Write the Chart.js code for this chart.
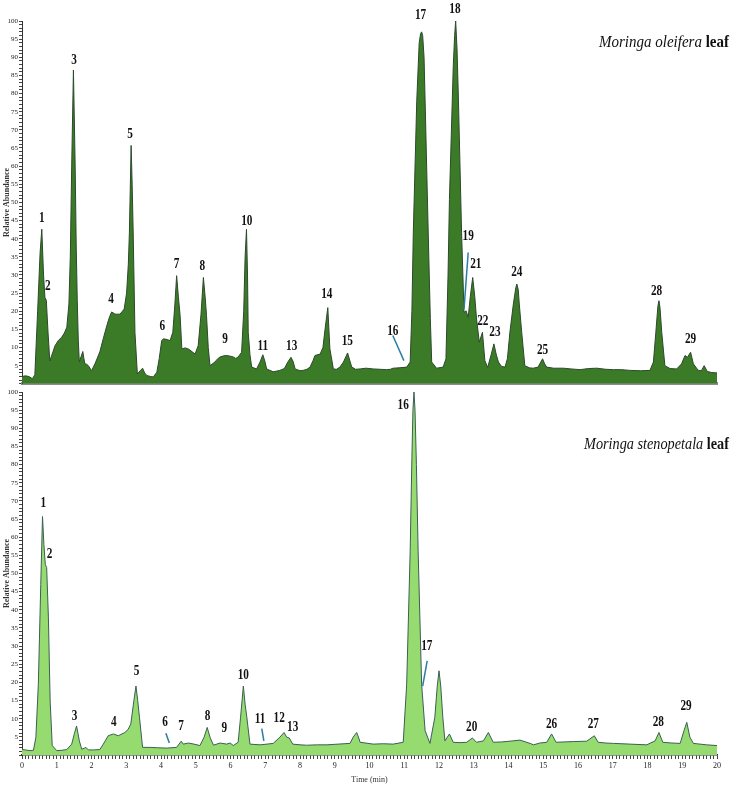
<!DOCTYPE html>
<html lang="en">
<head>
<meta charset="UTF-8">
<title>Moringa leaf chromatograms</title>
<script src="https://cdn.jsdelivr.net/npm/chart.js@4"></script>
<style>
  html, body { margin: 0; padding: 0; background: #fff; }
  #wrap { position: relative; width: 730px; height: 789px; overflow: hidden; }
  canvas { position: absolute; left: 0; }
  #topChart { top: 0; }
  #bottomChart { top: 385px; }
</style>
</head>
<body>
<div id="wrap">
  <canvas id="topChart" width="730" height="389"></canvas>
  <canvas id="bottomChart" width="730" height="404"></canvas>
</div>
<script>
// ---- Moringa oleifera leaf (top trace), time in min / relative abundance
const oleiferaTime = [
  0.00, 0.10, 0.20, 0.30, 0.37, 0.45, 0.52, 0.57, 0.62, 0.66, 0.70, 0.75, 0.80, 0.88, 0.95, 1.05,
  1.14, 1.22, 1.29, 1.35, 1.39, 1.43, 1.48, 1.53, 1.56, 1.59, 1.62, 1.65, 1.70, 1.75, 1.78, 1.81,
  1.86, 1.91, 2.00, 2.10, 2.24, 2.34, 2.44, 2.52, 2.58, 2.68, 2.82, 2.94, 3.01, 3.06, 3.09, 3.14,
  3.17, 3.20, 3.25, 3.32, 3.40, 3.47, 3.53, 3.59, 3.70, 3.78, 3.88, 3.95, 4.02, 4.07, 4.18, 4.26,
  4.34, 4.40, 4.45, 4.50, 4.55, 4.60, 4.69, 4.79, 4.90, 4.98, 5.07, 5.15, 5.22, 5.27, 5.31, 5.36,
  5.41, 5.48, 5.55, 5.62, 5.70, 5.80, 5.89, 6.00, 6.08, 6.15, 6.22, 6.32, 6.38, 6.42, 6.46, 6.49,
  6.51, 6.56, 6.61, 6.75, 6.85, 6.93, 6.99, 7.04, 7.23, 7.42, 7.55, 7.65, 7.74, 7.80, 7.86, 8.00,
  8.09, 8.20, 8.29, 8.38, 8.43, 8.58, 8.66, 8.72, 8.80, 8.86, 8.96, 9.05, 9.15, 9.25, 9.37, 9.43,
  9.49, 9.60, 9.73, 9.90, 10.11, 10.30, 10.49, 10.60, 10.68, 10.85, 11.07, 11.17, 11.22, 11.26, 11.36, 11.43,
  11.47, 11.50, 11.53, 11.57, 11.60, 11.69, 11.75, 11.79, 11.93, 12.12, 12.20, 12.26, 12.30, 12.41, 12.45, 12.48,
  12.52, 12.56, 12.65, 12.72, 12.78, 12.84, 12.90, 12.97, 13.03, 13.08, 13.16, 13.25, 13.32, 13.40, 13.50, 13.58,
  13.65, 13.71, 13.80, 13.90, 13.97, 14.04, 14.14, 14.21, 14.24, 14.28, 14.31, 14.38, 14.47, 14.60, 14.71, 14.85,
  14.93, 14.98, 15.04, 15.10, 15.30, 15.58, 15.80, 16.06, 16.30, 16.54, 16.80, 17.02, 17.25, 17.50, 17.80, 18.07,
  18.17, 18.24, 18.30, 18.33, 18.36, 18.41, 18.50, 18.65, 18.84, 18.98, 19.08, 19.15, 19.24, 19.32, 19.46, 19.55,
  19.63, 19.72, 19.85, 20.00
]
const oleiferaAbund = [
  2.0, 2.2, 2.0, 1.4, 2.5, 20, 36, 42.6, 30, 23.8, 23.0, 14, 6.3, 8.5, 10.5, 12,
  12.8, 14, 15.6, 22, 35, 60, 86.5, 60, 38, 23, 12, 6, 7.5, 8.9, 7, 5.5,
  5.4, 5, 3.6, 5.5, 8.8, 12.5, 16, 18.5, 19.8, 19.2, 19.2, 20.6, 25, 33, 41.6, 65.7,
  55, 41.6, 14.2, 2.7, 3.6, 4.3, 3, 2.3, 2.0, 1.9, 3.2, 7, 11.9, 12.4, 12.2, 11.9,
  14.2, 22, 29.8, 24, 18.8, 9.6, 9.9, 9.6, 8.8, 8.2, 10.5, 19, 29.3, 24, 18.8, 10,
  5, 5.5, 6, 6.8, 7.4, 7.7, 7.8, 7.6, 7.4, 7.0, 7.4, 8.7, 20, 35, 42.6, 30,
  14.2, 8, 4.6, 4.1, 6, 8, 6.2, 4.1, 3.3, 3.7, 4.2, 6, 7.3, 6.2, 4.1, 3.6,
  3.7, 4.0, 4.6, 6.5, 7.8, 8.2, 10, 15, 21, 9.6, 4.1, 4.0, 4.6, 6, 8.5, 6.5,
  4.6, 4.0, 4.1, 4.3, 4.1, 4.0, 3.9, 4.0, 4.3, 4.4, 4.6, 6, 20, 41.6, 78, 94,
  96.5, 97, 96, 90, 78, 41.6, 18, 6, 4.3, 4.6, 6.9, 30, 50.8, 87.4, 96, 100,
  92, 78, 41.6, 19.7, 20.1, 18.3, 24, 29.3, 24, 17.9, 11.5, 14.2, 6.4, 4.5, 8, 11,
  8, 6, 4.8, 4.6, 7, 14.2, 22, 26.5, 27.5, 26, 22, 14.2, 5, 4.4, 4.3, 4.6,
  6, 6.9, 5.5, 4.6, 4.3, 4.3, 4.1, 3.9, 4.2, 4.3, 4.0, 3.9, 3.9, 3.7, 3.6, 3.7,
  6, 14.2, 21.5, 22.9, 21, 14.2, 5, 4.2, 4.1, 5.5, 7.8, 7.3, 8.7, 5.5, 3.7, 3.6,
  5, 3.4, 3.1, 3.0
]
const oleiferaPeakIds    = ['1', '2', '3', '4', '5', '6', '7', '8', '9', '10', '11', '13', '14', '15', '16', '17', '18', '19', '21', '22', '23', '24', '25', '28', '29']
const oleiferaPeakTimes  = [0.57, 0.74, 1.50, 2.56, 3.11, 4.04, 4.45, 5.19, 5.84, 6.47, 6.93, 7.76, 8.77, 9.36, 10.67, 11.47, 12.46, 12.84, 13.06, 13.26, 13.61, 14.24, 14.98, 18.26, 19.24]
const oleiferaPeakLevels = [45.8, 27.0, 89.3, 23.4, 68.7, 16.0, 33.0, 32.5, 12.4, 44.9, 10.5, 10.5, 24.7, 11.9, 14.6, 101.6, 103.2, 40.6, 33.0, 17.4, 14.2, 30.7, 9.4, 25.6, 12.4]
// pointer lines: [time1, level1, time2, level2]
const oleiferaPointers = [[10.67, 13.3, 10.99, 6.4], [12.84, 36.2, 12.72, 20.6]]

// ---- Moringa stenopetala leaf (bottom trace)
const stenopetalaTime = [
  0.00, 0.10, 0.23, 0.33, 0.40, 0.47, 0.54, 0.59, 0.63, 0.67, 0.71, 0.76, 0.81, 0.87, 1.00, 1.15,
  1.29, 1.43, 1.51, 1.57, 1.61, 1.65, 1.72, 1.80, 1.84, 1.91, 2.05, 2.24, 2.34, 2.48, 2.63, 2.77,
  2.96, 3.05, 3.13, 3.22, 3.28, 3.33, 3.38, 3.47, 3.68, 3.90, 4.16, 4.45, 4.58, 4.64, 4.79, 4.95,
  5.12, 5.24, 5.33, 5.41, 5.51, 5.70, 5.89, 5.99, 6.08, 6.22, 6.29, 6.37, 6.42, 6.47, 6.56, 6.85,
  7.05, 7.23, 7.42, 7.54, 7.62, 7.69, 7.79, 8.00, 8.19, 8.50, 8.77, 9.10, 9.44, 9.53, 9.63, 9.68,
  9.73, 10.11, 10.40, 10.68, 10.97, 11.07, 11.17, 11.22, 11.25, 11.28, 11.31, 11.35, 11.40, 11.50, 11.60, 11.74,
  11.88, 11.95, 12.00, 12.05, 12.11, 12.17, 12.30, 12.41, 12.60, 12.80, 12.96, 13.08, 13.28, 13.42, 13.56, 13.80,
  14.14, 14.33, 14.62, 14.72, 14.90, 15.10, 15.24, 15.37, 15.60, 15.87, 16.25, 16.47, 16.58, 16.80, 17.02, 17.50,
  17.98, 18.22, 18.33, 18.44, 18.70, 18.94, 19.05, 19.13, 19.22, 19.32, 19.70, 20.00
]
const stenopetalaAbund = [
  1.5, 1.4, 1.2, 1.3, 4.9, 19.5, 47, 65.7, 58, 52.5, 51.6, 37.8, 14.9, 2.6, 1.2, 1.3,
  1.5, 3, 6, 8, 6, 3.9, 1.6, 1.9, 2.1, 1.4, 1.4, 1.5, 3, 5.3, 5.8, 5.3,
  6.2, 7, 8.5, 15, 19, 15, 10.4, 2.1, 2.1, 2.0, 1.9, 2.1, 3.8, 3.0, 3.3, 3.0,
  2.6, 4.9, 7.6, 4.9, 2.7, 3.3, 3.0, 3.3, 2.6, 3.5, 10.4, 19, 14, 10.4, 3.0, 2.8,
  3.0, 3.2, 4.9, 6.2, 4.9, 4.7, 3.0, 2.8, 2.7, 2.8, 2.8, 3.0, 3.2, 4.9, 6.2, 5,
  3.5, 3.0, 3.1, 3.0, 3.5, 19.5, 56, 82, 95, 100, 95, 80, 56, 19.5, 6.7, 3.2,
  10.4, 19, 23.2, 19, 10.4, 3.9, 5.8, 3.5, 3.4, 3.5, 4.7, 3.5, 3.9, 6.2, 3.5, 3.6,
  3.9, 4.1, 3.2, 2.8, 3.3, 3.5, 5.8, 3.5, 3.6, 3.7, 3.8, 5.3, 3.5, 3.3, 3.2, 3.0,
  2.8, 3.9, 6.2, 3.5, 3.3, 3.2, 6.7, 9, 4.9, 3.2, 2.8, 2.6
]
const stenopetalaPeakIds    = ['1', '2', '3', '4', '5', '6', '7', '8', '9', '10', '11', '12', '13', '16', '17', '20', '26', '27', '28', '29']
const stenopetalaPeakTimes  = [0.61, 0.79, 1.51, 2.64, 3.30, 4.12, 4.58, 5.34, 5.82, 6.37, 6.85, 7.40, 7.79, 10.97, 11.65, 12.94, 15.24, 16.44, 18.31, 19.11]
const stenopetalaPeakLevels = [69.4, 55.2, 10.6, 9.1, 23.0, 9.1, 7.9, 10.6, 7.3, 22.0, 9.9, 10.1, 7.6, 96.4, 30.0, 7.6, 8.5, 8.5, 9.0, 13.5]
const stenopetalaPointers = [[4.14, 6.0, 4.24, 3.3], [6.90, 7.3, 6.96, 3.9], [11.66, 25.9, 11.53, 19.0]]

const serif = '"Liberation Serif", "Times New Roman", serif'

// peak numbers, pointer lines and the species caption
function makeOverlay(ids, times, levels, pointers, caption) {
  return {
    id: 'overlay',
    afterDraw(chart) {
      const ctx = chart.ctx
      const xs = chart.scales.x, ys = chart.scales.y
      ctx.save()
      ctx.strokeStyle = '#2b7ea1'
      ctx.lineWidth = 1.5
      pointers.forEach(p => {
        ctx.beginPath()
        ctx.moveTo(xs.getPixelForValue(p[0]), ys.getPixelForValue(p[1]))
        ctx.lineTo(xs.getPixelForValue(p[2]), ys.getPixelForValue(p[3]))
        ctx.stroke()
      })
      ctx.fillStyle = '#111'
      ctx.font = 'bold 15px ' + serif
      ctx.textAlign = 'center'
      ctx.textBaseline = 'middle'
      ids.forEach((id, i) => {
        ctx.save()
        ctx.translate(xs.getPixelForValue(times[i]), ys.getPixelForValue(levels[i]))
        ctx.scale(0.75, 1)
        ctx.fillText(id, 0, 0)
        ctx.restore()
      })

      // caption: italic name + bold "leaf", squeezed to the reference width
      ctx.textAlign = 'left'
      ctx.font = 'italic 17px ' + serif
      const w1 = ctx.measureText(caption.italic).width
      ctx.font = 'bold 17px ' + serif
      const w2 = ctx.measureText(caption.plain).width
      const k = caption.width / (w1 + w2)
      ctx.translate(caption.right - caption.width, caption.y)
      ctx.scale(k, 1)
      ctx.font = 'italic 17px ' + serif
      ctx.fillText(caption.italic, 0, 0)
      ctx.font = 'bold 17px ' + serif
      ctx.fillText(caption.plain, w1, 0)
      ctx.restore()
    }
  }
}

function yScale() {
  return {
    min: 0,
    max: 100,
    afterFit: (scale) => { scale.width = 22 },
    border: { display: true, color: '#333', width: 1 },
    grid: { display: true, drawOnChartArea: false, drawTicks: true, tickLength: 3, tickColor: '#444' },
    ticks: {
      stepSize: 1,
      autoSkip: false,
      padding: 1,
      color: '#222',
      font: { family: serif, size: 7 },
      callback: (v) => (v % 5 === 0 && v > 0) ? v : ''
    },
    title: {
      display: true,
      text: 'Relative Abundance',
      color: '#333',
      padding: { top: 2, bottom: 0 },
      font: { family: serif, size: 8, weight: 'bold' }
    }
  }
}

function createChart(canvasId, times, values, fillColor, lineColor, xAxis, padding, overlay) {
  const ctx = document.getElementById(canvasId).getContext('2d')
  return new Chart(ctx, {
    type: 'line',
    data: {
      datasets: [{
        data: times.map((t, i) => ({ x: t, y: values[i] })),
        borderColor: lineColor,
        backgroundColor: fillColor,
        borderWidth: 1,
        pointRadius: 0,
        tension: 0,
        fill: 'origin'
      }]
    },
    options: {
      responsive: false,
      animation: false,
      devicePixelRatio: 1,
      layout: { padding: padding },
      scales: { x: xAxis, y: yScale() },
      plugins: { legend: { display: false }, tooltip: { enabled: false } }
    },
    plugins: [overlay]
  })
}

document.addEventListener('DOMContentLoaded', () => {
  // top panel: grey bar instead of a labelled time axis
  createChart('topChart', oleiferaTime, oleiferaAbund, '#3b7b27', '#2d4a2c', {
    type: 'linear',
    min: 0,
    max: 20,
    afterFit: (scale) => { scale.height = 5 },
    border: { display: true, color: '#8c8c8c', width: 3 },
    grid: { display: true, drawOnChartArea: false, drawTicks: false },
    ticks: { display: false }
  }, { top: 21, right: 13, left: 0, bottom: 0 },
  makeOverlay(oleiferaPeakIds, oleiferaPeakTimes, oleiferaPeakLevels, oleiferaPointers,
    { italic: 'Moringa oleifera', plain: ' leaf', right: 729, y: 43, width: 130 }))

  createChart('bottomChart', stenopetalaTime, stenopetalaAbund, '#95db70', '#3b5f52', {
    type: 'linear',
    min: 0,
    max: 20,
    afterFit: (scale) => { scale.height = 34 },
    border: { display: true, color: '#333', width: 1.5 },
    grid: { display: true, drawOnChartArea: false, drawTicks: true, tickLength: 4, tickColor: '#444' },
    ticks: {
      stepSize: 0.1,
      autoSkip: false,
      maxRotation: 0,
      minRotation: 0,
      padding: 2,
      color: '#222',
      font: { family: serif, size: 8 },
      callback: (v) => Number.isInteger(v) ? v : ''
    },
    title: {
      display: true,
      text: 'Time (min)',
      color: '#333',
      padding: { top: 0, bottom: 4 },
      font: { family: serif, size: 8 }
    }
  }, { top: 7, right: 13, left: 0, bottom: 0 },
  makeOverlay(stenopetalaPeakIds, stenopetalaPeakTimes, stenopetalaPeakLevels, stenopetalaPointers,
    { italic: 'Moringa stenopetala', plain: ' leaf', right: 729, y: 60, width: 145 }))
})
</script>
</body>
</html>
